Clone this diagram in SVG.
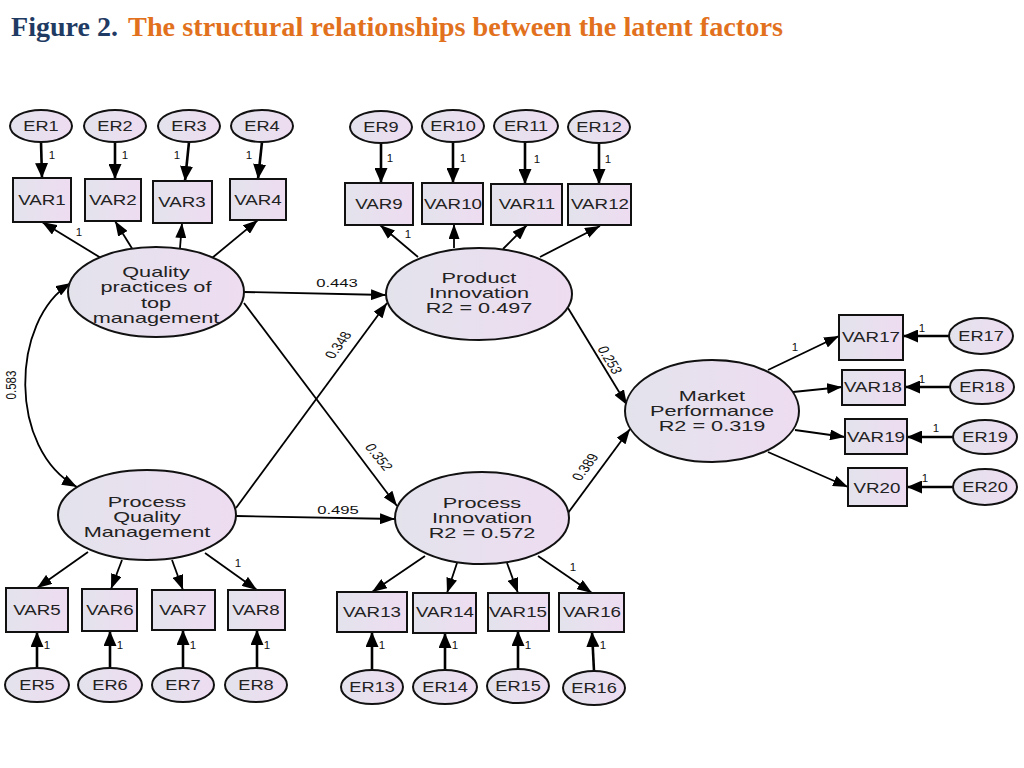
<svg xmlns="http://www.w3.org/2000/svg" width="1024" height="768" viewBox="0 0 1024 768">
<defs>
<linearGradient id="g" x1="0" y1="0" x2="1" y2="0">
<stop offset="0" stop-color="#e3e3ec"/>
<stop offset="1" stop-color="#eedcf1"/>
</linearGradient>
<marker id="a" viewBox="0 0 15 11" refX="15" refY="5.5" markerWidth="15" markerHeight="11" markerUnits="userSpaceOnUse" orient="auto-start-reverse">
<path d="M0,0L15,5.5L0,11z" fill="#000"/>
</marker>
<marker id="b" viewBox="0 0 15 13" refX="15" refY="6.5" markerWidth="15" markerHeight="13" markerUnits="userSpaceOnUse" orient="auto">
<path d="M0,0L15,6.5L0,13z" fill="#000"/>
</marker>
<style>
.ttl{font-family:"Liberation Serif","Times New Roman",serif;font-weight:bold;font-size:27px}
.nd{fill:url(#g);stroke:#111;stroke-width:2}
.t{font-family:"Liberation Sans",Arial,sans-serif;fill:#222;text-anchor:middle}
.lv{font-size:14px}
.vr{font-size:15px}
.er{font-size:14px}
.lb{font-size:11.5px;font-family:"Liberation Sans",Arial,sans-serif;fill:#111;text-anchor:middle}
.c{stroke:#000;stroke-width:1.8;fill:none;marker-end:url(#a)}
.e{stroke-width:2.6;marker-end:url(#b)}
</style>
</defs>
<rect width="1024" height="768" fill="#fff"/>
<text class="ttl" x="11" y="36" fill="#1f3b63" textLength="107" lengthAdjust="spacingAndGlyphs">Figure 2.</text>
<text class="ttl" x="128" y="36" fill="#e2711d" textLength="655" lengthAdjust="spacingAndGlyphs">The structural relationships between the latent factors</text>

<g id="connectors">
<!-- error to indicator -->
<line class="c e" x1="41" y1="142" x2="42" y2="178"/>
<line class="c e" x1="115" y1="142" x2="115" y2="179"/>
<line class="c e" x1="189" y1="142" x2="185" y2="181"/>
<line class="c e" x1="262" y1="142" x2="258" y2="179"/>
<line class="c e" x1="381" y1="143" x2="381" y2="183"/>
<line class="c e" x1="453" y1="142" x2="453" y2="183"/>
<line class="c e" x1="525" y1="142" x2="525" y2="184"/>
<line class="c e" x1="599" y1="143" x2="599" y2="184"/>
<line class="c e" x1="37" y1="668" x2="37" y2="632"/>
<line class="c e" x1="110" y1="668" x2="110" y2="631"/>
<line class="c e" x1="183" y1="668" x2="183" y2="630"/>
<line class="c e" x1="257" y1="668" x2="257" y2="630"/>
<line class="c e" x1="372" y1="670" x2="372" y2="632"/>
<line class="c e" x1="445" y1="670" x2="445" y2="633"/>
<line class="c e" x1="518" y1="669" x2="518" y2="631"/>
<line class="c e" x1="594" y1="671" x2="592" y2="632"/>
<line class="c e" x1="949" y1="336" x2="903" y2="336"/>
<line class="c e" x1="950" y1="387" x2="905" y2="387"/>
<line class="c e" x1="953" y1="437" x2="907" y2="437"/>
<line class="c e" x1="953" y1="487" x2="907" y2="487"/>
<!-- loadings -->
<line class="c" x1="101" y1="258" x2="42" y2="222"/>
<line class="c" x1="133" y1="250" x2="115" y2="221"/>
<line class="c" x1="180" y1="248" x2="182" y2="223"/>
<line class="c" x1="212" y1="258" x2="258" y2="220"/>
<line class="c" x1="418" y1="257" x2="380" y2="225"/>
<line class="c" x1="454" y1="248" x2="454" y2="224"/>
<line class="c" x1="503" y1="249" x2="527" y2="225"/>
<line class="c" x1="540" y1="257" x2="600" y2="226"/>
<line class="c" x1="88" y1="552" x2="37" y2="588"/>
<line class="c" x1="122" y1="560" x2="111" y2="589"/>
<line class="c" x1="172" y1="560" x2="183" y2="590"/>
<line class="c" x1="205" y1="553" x2="257" y2="590"/>
<line class="c" x1="425" y1="556" x2="372" y2="592"/>
<line class="c" x1="457" y1="563" x2="447" y2="593"/>
<line class="c" x1="507" y1="563" x2="518" y2="593"/>
<line class="c" x1="538" y1="556" x2="592" y2="593"/>
<line class="c" x1="768" y1="370" x2="839" y2="336"/>
<line class="c" x1="793" y1="392" x2="842" y2="387"/>
<line class="c" x1="795" y1="430" x2="845" y2="437"/>
<line class="c" x1="768" y1="452" x2="848" y2="487"/>
<!-- structural -->
<line class="c" x1="244" y1="292" x2="386" y2="295"/>
<line class="c" x1="244" y1="303" x2="397" y2="506"/>
<line class="c" x1="236" y1="508" x2="387" y2="303"/>
<line class="c" x1="236" y1="516" x2="395" y2="519"/>
<line class="c" x1="568" y1="308" x2="627" y2="405"/>
<line class="c" x1="568" y1="513" x2="630" y2="429"/>
<path class="c" d="M71,283 C10,320 8,450 77,487" marker-start="url(#a)"/>
<!-- labels -->
<text class="lb" x="52" y="159">1</text>
<text class="lb" x="125" y="159">1</text>
<text class="lb" x="177" y="159">1</text>
<text class="lb" x="249" y="159">1</text>
<text class="lb" x="79" y="236">1</text>
<text class="lb" x="390" y="162">1</text>
<text class="lb" x="463" y="162">1</text>
<text class="lb" x="537" y="163">1</text>
<text class="lb" x="608" y="163">1</text>
<text class="lb" x="408" y="238">1</text>
<text class="lb" x="922" y="332">1</text>
<text class="lb" x="922" y="383">1</text>
<text class="lb" x="936" y="432">1</text>
<text class="lb" x="925" y="482">1</text>
<text class="lb" x="795" y="351">1</text>
<text class="lb" x="47" y="649">1</text>
<text class="lb" x="120" y="649">1</text>
<text class="lb" x="193" y="649">1</text>
<text class="lb" x="267" y="649">1</text>
<text class="lb" x="238" y="567">1</text>
<text class="lb" x="382" y="649">1</text>
<text class="lb" x="455" y="649">1</text>
<text class="lb" x="528" y="649">1</text>
<text class="lb" x="603" y="649">1</text>
<text class="lb" x="573" y="571">1</text>
<text class="lb" transform="translate(337,287) scale(1.45,1)">0.443</text>
<text class="lb" transform="translate(338,514) scale(1.45,1)">0.495</text>
<text class="lb" transform="translate(338,345) scale(1.35,1) rotate(-61.5)" dy="0.35em">0.348</text>
<text class="lb" transform="translate(379,457) scale(1.35,1) rotate(59)" dy="0.35em">0.352</text>
<text class="lb" transform="translate(610,360) scale(1.35,1) rotate(65.7)" dy="0.35em">0.253</text>
<text class="lb" transform="translate(585,467) scale(1.35,1) rotate(-61.4)" dy="0.35em">0.389</text>
<text class="lb" transform="translate(11,385) scale(1.35,1) rotate(-90)" dy="0.35em">0.583</text>
</g>

<!-- latent factors -->
<g id="QP"><ellipse class="nd" cx="156" cy="292" rx="88" ry="45"/>
<text class="t lv" transform="translate(156,277) scale(1.55,1)"><tspan x="0">Quality</tspan><tspan x="0" dy="15.3">practices of</tspan><tspan x="0" dy="15.3">top</tspan><tspan x="0" dy="15.3">management</tspan></text></g>
<g id="PI"><ellipse class="nd" cx="479" cy="294" rx="93" ry="46"/>
<text class="t lv" transform="translate(479,283) scale(1.55,1)"><tspan x="0">Product</tspan><tspan x="0" dy="15">Innovation</tspan><tspan x="0" dy="15">R2 = 0.497</tspan></text></g>
<g id="PQM"><ellipse class="nd" cx="147" cy="515" rx="89" ry="45"/>
<text class="t lv" transform="translate(147,507) scale(1.55,1)"><tspan x="0">Process</tspan><tspan x="0" dy="15">Quality</tspan><tspan x="0" dy="15">Management</tspan></text></g>
<g id="ProcI"><ellipse class="nd" cx="482" cy="518" rx="87" ry="46"/>
<text class="t lv" transform="translate(482,508) scale(1.55,1)"><tspan x="0">Process</tspan><tspan x="0" dy="15">Innovation</tspan><tspan x="0" dy="15">R2 = 0.572</tspan></text></g>
<g id="MP"><ellipse class="nd" cx="712" cy="411" rx="87" ry="51"/>
<text class="t lv" transform="translate(712,401) scale(1.55,1)"><tspan x="0">Market</tspan><tspan x="0" dy="15">Performance</tspan><tspan x="0" dy="15">R2 = 0.319</tspan></text></g>

<!-- indicators -->
<g id="VAR1"><rect class="nd" x="13" y="178" width="58" height="44"/><text class="t vr" transform="translate(42,205) scale(1.25,1)">VAR1</text></g>
<g id="VAR2"><rect class="nd" x="85" y="179" width="56" height="42"/><text class="t vr" transform="translate(113,205) scale(1.25,1)">VAR2</text></g>
<g id="VAR3"><rect class="nd" x="153" y="181" width="59" height="42"/><text class="t vr" transform="translate(182,207) scale(1.25,1)">VAR3</text></g>
<g id="VAR4"><rect class="nd" x="230" y="179" width="56" height="41"/><text class="t vr" transform="translate(258,205) scale(1.25,1)">VAR4</text></g>
<g id="VAR9"><rect class="nd" x="345" y="183" width="68" height="42"/><text class="t vr" transform="translate(379,209) scale(1.25,1)">VAR9</text></g>
<g id="VAR10"><rect class="nd" x="422" y="183" width="61" height="41"/><text class="t vr" transform="translate(453,209) scale(1.25,1)">VAR10</text></g>
<g id="VAR11"><rect class="nd" x="491" y="184" width="71" height="41"/><text class="t vr" transform="translate(527,209) scale(1.25,1)">VAR11</text></g>
<g id="VAR12"><rect class="nd" x="568" y="184" width="63" height="41"/><text class="t vr" transform="translate(600,209) scale(1.25,1)">VAR12</text></g>
<g id="VAR5"><rect class="nd" x="6" y="588" width="62" height="44"/><text class="t vr" transform="translate(37,615) scale(1.25,1)">VAR5</text></g>
<g id="VAR6"><rect class="nd" x="82" y="589" width="55" height="42"/><text class="t vr" transform="translate(110,615) scale(1.25,1)">VAR6</text></g>
<g id="VAR7"><rect class="nd" x="152" y="590" width="63" height="40"/><text class="t vr" transform="translate(183,615) scale(1.25,1)">VAR7</text></g>
<g id="VAR8"><rect class="nd" x="228" y="590" width="57" height="40"/><text class="t vr" transform="translate(256,615) scale(1.25,1)">VAR8</text></g>
<g id="VAR13"><rect class="nd" x="337" y="592" width="70" height="40"/><text class="t vr" transform="translate(372,617) scale(1.25,1)">VAR13</text></g>
<g id="VAR14"><rect class="nd" x="413" y="593" width="63" height="40"/><text class="t vr" transform="translate(445,617) scale(1.25,1)">VAR14</text></g>
<g id="VAR15"><rect class="nd" x="488" y="593" width="61" height="38"/><text class="t vr" transform="translate(518,617) scale(1.25,1)">VAR15</text></g>
<g id="VAR16"><rect class="nd" x="559" y="593" width="65" height="39"/><text class="t vr" transform="translate(592,617) scale(1.25,1)">VAR16</text></g>
<g id="VAR17"><rect class="nd" x="839" y="315" width="64" height="45"/><text class="t vr" transform="translate(871,342) scale(1.25,1)">VAR17</text></g>
<g id="VAR18"><rect class="nd" x="842" y="370" width="63" height="35"/><text class="t vr" transform="translate(873,392) scale(1.25,1)">VAR18</text></g>
<g id="VAR19"><rect class="nd" x="845" y="419" width="62" height="35"/><text class="t vr" transform="translate(876,442) scale(1.25,1)">VAR19</text></g>
<g id="VR20"><rect class="nd" x="848" y="468" width="59" height="38"/><text class="t vr" transform="translate(877,493) scale(1.25,1)">VR20</text></g>

<!-- errors -->
<g id="ER1"><ellipse class="nd" cx="41" cy="126" rx="31" ry="16"/><text class="t er" transform="translate(41,131) scale(1.3,1)">ER1</text></g>
<g id="ER2"><ellipse class="nd" cx="115" cy="126" rx="31" ry="16"/><text class="t er" transform="translate(115,131) scale(1.3,1)">ER2</text></g>
<g id="ER3"><ellipse class="nd" cx="189" cy="126" rx="31" ry="16"/><text class="t er" transform="translate(189,131) scale(1.3,1)">ER3</text></g>
<g id="ER4"><ellipse class="nd" cx="262" cy="126" rx="31" ry="16"/><text class="t er" transform="translate(262,131) scale(1.3,1)">ER4</text></g>
<g id="ER9"><ellipse class="nd" cx="381" cy="127" rx="31" ry="16"/><text class="t er" transform="translate(381,132) scale(1.3,1)">ER9</text></g>
<g id="ER10"><ellipse class="nd" cx="453" cy="126" rx="31" ry="16"/><text class="t er" transform="translate(453,131) scale(1.3,1)">ER10</text></g>
<g id="ER11"><ellipse class="nd" cx="526" cy="126" rx="32" ry="16"/><text class="t er" transform="translate(526,131) scale(1.3,1)">ER11</text></g>
<g id="ER12"><ellipse class="nd" cx="599" cy="127" rx="31" ry="16"/><text class="t er" transform="translate(599,132) scale(1.3,1)">ER12</text></g>
<g id="ER5"><ellipse class="nd" cx="37" cy="685" rx="32" ry="17"/><text class="t er" transform="translate(37,690) scale(1.3,1)">ER5</text></g>
<g id="ER6"><ellipse class="nd" cx="110" cy="685" rx="32" ry="17"/><text class="t er" transform="translate(110,690) scale(1.3,1)">ER6</text></g>
<g id="ER7"><ellipse class="nd" cx="183" cy="685" rx="31" ry="17"/><text class="t er" transform="translate(183,690) scale(1.3,1)">ER7</text></g>
<g id="ER8"><ellipse class="nd" cx="256" cy="685" rx="31" ry="17"/><text class="t er" transform="translate(256,690) scale(1.3,1)">ER8</text></g>
<g id="ER13"><ellipse class="nd" cx="372" cy="687" rx="31" ry="17"/><text class="t er" transform="translate(372,692) scale(1.3,1)">ER13</text></g>
<g id="ER14"><ellipse class="nd" cx="445" cy="687" rx="32" ry="17"/><text class="t er" transform="translate(445,692) scale(1.3,1)">ER14</text></g>
<g id="ER15"><ellipse class="nd" cx="518" cy="686" rx="31" ry="17"/><text class="t er" transform="translate(518,691) scale(1.3,1)">ER15</text></g>
<g id="ER16"><ellipse class="nd" cx="594" cy="688" rx="31" ry="17"/><text class="t er" transform="translate(594,693) scale(1.3,1)">ER16</text></g>
<g id="ER17"><ellipse class="nd" cx="981" cy="336" rx="32" ry="18"/><text class="t er" transform="translate(981,341) scale(1.3,1)">ER17</text></g>
<g id="ER18"><ellipse class="nd" cx="982" cy="387" rx="32" ry="17"/><text class="t er" transform="translate(982,392) scale(1.3,1)">ER18</text></g>
<g id="ER19"><ellipse class="nd" cx="985" cy="437" rx="32" ry="17"/><text class="t er" transform="translate(985,442) scale(1.3,1)">ER19</text></g>
<g id="ER20"><ellipse class="nd" cx="985" cy="487" rx="32" ry="18"/><text class="t er" transform="translate(985,492) scale(1.3,1)">ER20</text></g>
</svg>
